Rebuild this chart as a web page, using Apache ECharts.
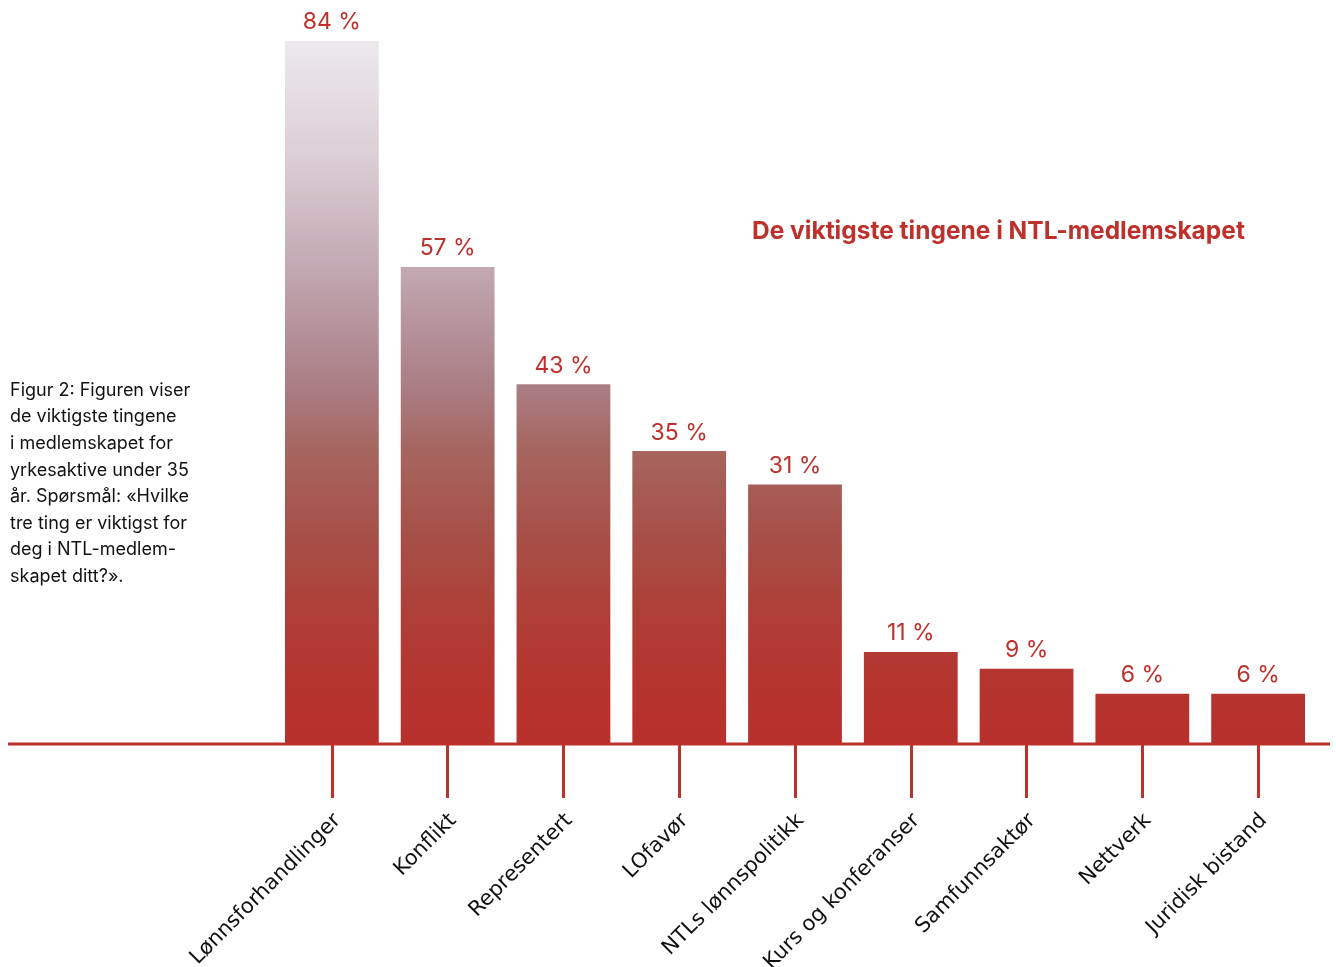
<!DOCTYPE html>
<html>
<head>
<meta charset="utf-8">
<script src="https://cdn.jsdelivr.net/npm/echarts@6/dist/echarts.min.js"></script>
<style>
html,body{margin:0;padding:0;background:#fff;}
#chart{width:1336px;height:967px;}
</style>
</head>
<body>
<div id="chart"></div>
<script>
var categories = ['Lønnsforhandlinger','Konflikt','Representert','LOfavør','NTLs lønnspolitikk','Kurs og konferanser','Samfunnsaktør','Nettverk','Juridisk bistand'];
var values = [84, 57, 43, 35, 31, 11, 9, 6, 6];
var titleText = 'De viktigste tingene i NTL-medlemskapet';
var captionLines = ['Figur 2: Figuren viser','de viktigste tingene','i medlemskapet for','yrkesaktive under 35','år. Spørsmål: «Hvilke','tre ting er viktigst for','deg i NTL-medlem-','skapet ditt?».'];

var RED = '#bd302b';
var chart = echarts.init(document.getElementById('chart'));
var grad = new echarts.graphic.LinearGradient(0, 41, 0, 744, [
  {offset: 0, color: '#ece9ec'},
  {offset: 0.16, color: '#dccfd5'},
  {offset: 0.32, color: '#c3a9b3'},
  {offset: 0.49, color: '#aa7e85'},
  {offset: 0.58, color: '#a6665f'},
  {offset: 0.70, color: '#a65049'},
  {offset: 0.80, color: '#ad4139'},
  {offset: 0.90, color: '#b5352f'},
  {offset: 1, color: '#b8302c'}
], true);

chart.setOption({
  animation: false,
  backgroundColor: '#fff',
  grid: {left: 274, right: 20, top: 41, bottom: 223, containLabel: false, outerBoundsMode: 'none'},
  xAxis: {
    type: 'category',
    data: categories,
    axisLine: {show: false},
    axisTick: {show: true, alignWithLabel: true, length: 54, lineStyle: {color: RED, width: 3}},
    axisLabel: {rotate: 45, margin: 79, fontSize: 21, color: '#111', fontFamily: 'DejaVu Sans', padding: [0, -8, 0, 0]}
  },
  yAxis: {
    type: 'value', min: 0, max: 84,
    show: false, splitLine: {show: false}
  },
  series: [{
    type: 'bar',
    data: values,
    barCategoryGap: '19%',
    itemStyle: {color: grad},
    label: {
      show: true, position: 'top', distance: 7,
      formatter: '{c} %', color: RED, fontSize: 23, fontFamily: 'Inter'
    }
  }],
  graphic: [
    {type: 'line', z: 100, shape: {x1: 8, y1: 744, x2: 1330, y2: 744}, style: {stroke: RED, lineWidth: 3}},
    {type: 'text', left: 752, top: 219, style: {text: titleText, fill: RED, font: 'bold 24.5px Inter'}},
    {type: 'text', left: 10, top: 377, style: {text: captionLines.join('\n'), fill: '#111', font: '18px Inter', lineHeight: 26.6}}
  ]
});
</script>
</body>
</html>
